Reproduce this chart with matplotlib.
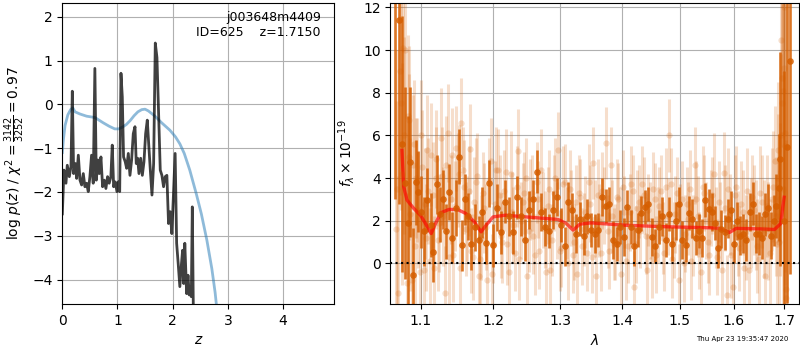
import numpy as np
import matplotlib.pyplot as plt
from matplotlib.ticker import NullLocator, NullFormatter

# left panel: p(z) and prior
pz_z = [0.0, 0.03, 0.066, 0.09, 0.127, 0.157, 0.181, 0.205, 0.236, 0.26,
        0.29, 0.32, 0.35, 0.38, 0.41, 0.44, 0.47, 0.50, 0.53, 0.56,
        0.59, 0.616, 0.646, 0.67, 0.70, 0.73, 0.76, 0.79, 0.82, 0.85,
        0.88, 0.905, 0.93, 0.96, 0.99, 1.015, 1.04, 1.063, 1.087, 1.11,
        1.14, 1.166, 1.196, 1.226, 1.256, 1.286, 1.317, 1.34, 1.365, 1.389,
        1.42, 1.45, 1.48, 1.51, 1.54, 1.565, 1.595, 1.625, 1.655, 1.685,
        1.715, 1.745, 1.775, 1.805, 1.835, 1.865, 1.895, 1.925, 1.955, 1.985,
        2.045, 2.072, 2.10, 2.13, 2.16, 2.18, 2.20, 2.22, 2.253, 2.278,
        2.30, 2.32, 2.338, 2.356, 2.374, 2.40]
pz_logp = [-2.5, -1.5, -1.8, -1.39, -1.65, -1.42, 0.30, -1.58, -1.35, -1.69,
           -1.16, -1.73, -1.84, -1.58, -1.88, -1.8, -1.99, -1.65, -1.16, -1.8,
           0.82, -1.73, -1.27, -1.58, -1.2, -1.88, -1.73, -1.92, -1.65, -1.8,
           -1.65, -0.93, -1.88, -1.77, -1.99, -1.77, -1.99, 0.71, 0.17, -1.2,
           -1.31, -1.46, -1.12, -1.62, -1.27, -0.67, -0.51, -1.35, -1.23, -1.58,
           -1.23, -1.62, -1.31, -0.67, -0.36, -0.89, -1.5, -2.07, -1.35, 1.40,
           1.07, -0.2, -1.5, -1.62, -1.88, -1.65, -1.62, -2.72, -2.45, -2.95,
           -1.12, -3.17, -3.63, -4.16, -3.63, -3.33, -4.09, -3.17, -4.32, -3.9,
           -4.35, -4.16, -4.39, -2.34, -4.62, -6.0]

prior_z = [0.0, 0.02, 0.05, 0.1, 0.15, 0.19, 0.23, 0.32, 0.44, 0.59,
           0.74, 0.85, 0.95, 1.02, 1.09, 1.16, 1.23, 1.30, 1.37, 1.44,
           1.50, 1.56, 1.68, 1.8, 1.95, 2.05, 2.13, 2.21, 2.31, 2.43,
           2.52, 2.62, 2.71, 2.77, 2.82]
prior_logp = [-1.1, -0.8, -0.48, -0.24, -0.12, -0.08, -0.17, -0.22, -0.27, -0.3,
              -0.42, -0.5, -0.56, -0.56, -0.52, -0.46, -0.37, -0.26, -0.17, -0.12,
              -0.11, -0.15, -0.27, -0.42, -0.59, -0.74, -0.9, -1.12, -1.5, -2.05,
              -2.5, -3.1, -3.75, -4.3, -4.9]

# right panel: stacked spectrum (dark points)
lam_d = [1.067, 1.072, 1.076, 1.079, 1.083, 1.086, 1.090, 1.094, 1.097, 1.101, 1.105,
         1.109, 1.113, 1.117, 1.122, 1.126, 1.130, 1.134, 1.138, 1.142, 1.147,
         1.152, 1.156, 1.160, 1.164, 1.169, 1.174, 1.179, 1.184, 1.189, 1.194,
         1.199, 1.205, 1.211, 1.217, 1.223, 1.229, 1.235, 1.241, 1.247, 1.253,
         1.259, 1.265, 1.271, 1.277, 1.283, 1.289, 1.295, 1.301, 1.307, 1.313,
         1.319, 1.325, 1.331, 1.337, 1.343, 1.349, 1.355, 1.361, 1.367, 1.373,
         1.379, 1.385, 1.391, 1.397, 1.403, 1.409, 1.415, 1.421, 1.427, 1.433,
         1.439, 1.445, 1.451, 1.457, 1.463, 1.469, 1.475, 1.481, 1.487, 1.493,
         1.499, 1.505, 1.511, 1.517, 1.523, 1.529, 1.535, 1.541, 1.547, 1.553,
         1.559, 1.565, 1.571, 1.577, 1.583, 1.589, 1.595, 1.601, 1.607, 1.613,
         1.619, 1.625, 1.631, 1.637, 1.643, 1.649, 1.655, 1.661, 1.667, 1.673,
         1.679, 1.684, 1.689, 1.692, 1.699, 1.706, 1.713]
flux_d = [13.0, 11.4, 5.6, 3.75, 1.9, 4.75, -0.55, 3.8, 3.35, 2.4, 1.5,
          2.95, 1.8, 0.55, 3.7, 2.3, 3.0, 1.5, 3.35, 1.2, 2.6,
          5.0, 0.85, 3.0, 2.2, 0.9, 1.7, 1.1, 2.4, 0.95, 3.75,
          0.85, 2.6, 1.45, 2.9, 2.2, 1.45, 3.1, 2.2, 1.1, 2.5,
          3.0, 4.3, 2.4, 1.7, 1.5, 2.5, 3.1, 1.8, 0.8, 2.9,
          2.5, 1.4, 2.1, 1.3, 2.2, 1.56, 1.4, 1.56, 3.1, 2.7,
          2.8, 1.1, 0.9, 1.7, 1.25, 2.65, 1.7, 0.8, 1.56, 2.34,
          2.65, 2.8, 1.25, 0.8, 1.7, 2.2, 1.1, 2.3, 0.9, 2.0,
          2.8, 1.1, 0.85, 2.35, 2.1, 1.2, 1.5, 1.2, 2.97, 2.57,
          2.4, 1.9, 0.7, 1.6, 1.45, 2.1, 2.5, 0.93, 2.0, 1.3,
          1.4, 1.1, 2.4, 2.8, 1.4, 1.4, 1.2, 2.3, 2.6, 1.3,
          2.0, 2.7, 3.55, 4.9, 2.0, 5.45, 9.5]
err_d = [10.0, 8.6, 6.0, 4.5, 5.0, 3.5, 2.2, 2.0, 1.9, 1.7, 1.6,
         1.5, 1.5, 1.4, 1.4, 1.3, 1.4, 1.3, 1.3, 1.2, 1.3,
         1.3, 1.2, 1.2, 1.1, 1.2, 1.1, 1.1, 1.2, 1.0, 1.1,
         1.0, 1.1, 1.0, 1.0, 0.9, 1.0, 1.0, 0.9, 1.0, 0.9,
         0.9, 1.0, 0.9, 0.9, 0.8, 0.9, 0.9, 0.8, 0.9, 0.9,
         0.8, 0.9, 0.8, 0.9, 0.8, 0.8, 0.9, 0.8, 0.9, 0.8,
         0.8, 0.9, 0.8, 0.8, 0.9, 0.8, 0.8, 0.9, 0.8, 0.8,
         0.8, 0.8, 0.9, 0.8, 0.8, 0.9, 0.8, 0.8, 0.8, 0.9,
         0.8, 0.9, 0.8, 0.8, 0.9, 0.8, 0.8, 0.9, 0.8, 0.9,
         0.9, 0.8, 0.9, 0.9, 0.8, 0.9, 0.9, 0.9, 0.9, 0.9,
         0.9, 1.0, 0.9, 1.0, 0.9, 1.0, 1.0, 1.0, 1.1, 1.1,
         1.2, 1.5, 2.5, 5.0, 7.0, 7.3, 10.0]

# individual beams (light points), first beam
lam_l = [1.068, 1.071, 1.074, 1.077, 1.080, 1.083, 1.085, 1.088, 1.091, 1.094,
         1.097, 1.100, 1.104, 1.107, 1.110, 1.114, 1.118, 1.121, 1.125, 1.128,
         1.132, 1.136, 1.140, 1.144, 1.148, 1.151, 1.155, 1.159, 1.163, 1.167,
         1.171, 1.175, 1.179, 1.183, 1.187, 1.191, 1.196, 1.200, 1.204, 1.209,
         1.213, 1.218, 1.222, 1.227, 1.231, 1.236, 1.240, 1.245, 1.250, 1.254,
         1.259, 1.264, 1.268, 1.273, 1.278, 1.283, 1.287, 1.292, 1.297, 1.302,
         1.307, 1.312, 1.317, 1.322, 1.327, 1.332, 1.337, 1.342, 1.347, 1.352,
         1.357, 1.362, 1.367, 1.373, 1.378, 1.383, 1.388, 1.394, 1.399, 1.404,
         1.410, 1.415, 1.420, 1.426, 1.431, 1.437, 1.442, 1.448, 1.453, 1.459,
         1.464, 1.470, 1.476, 1.481, 1.487, 1.492, 1.498, 1.504, 1.510, 1.515,
         1.521, 1.527, 1.533, 1.539, 1.545, 1.551, 1.557, 1.563, 1.569, 1.575,
         1.581, 1.587, 1.593, 1.599, 1.605, 1.611, 1.618, 1.624, 1.630, 1.636,
         1.643, 1.649, 1.655, 1.662, 1.668, 1.675, 1.681, 1.685, 1.688, 1.691,
         1.694, 1.696, 1.698, 1.700, 1.702, 1.704]
flux_l = [1.6, -1.4, 7.5, 10.1, 10.0, 6.9, 6.7, -0.8, 5.6, 4.0,
          2.5, 6.0, -0.3, 1.2, 3.4, 5.1, -0.2, 4.9, 1.9, 4.1,
          -1.4, 6.1, 3.0, 0.4, 5.4, 4.2, 6.6, 3.6, 2.1, 5.35,
          0.3, 3.8, -0.6, 1.2, 2.6, -0.8, 4.8, 0.9, 4.4, 3.2,
          1.0, 4.3, -0.4, 2.4, 0.5, 5.25, 2.0, 3.3, -0.6, 3.0,
          1.3, 3.8, 0.6, 2.5, -0.4, 3.5, 1.1, 4.0, 5.3, 0.7,
          3.8, 0.0, 2.6, 1.0, -0.5, 3.1, 1.6, 0.5, 2.8, 4.7,
          -0.6, 2.0, 3.4, 5.65, 0.6, 2.2, 1.0, 3.0, -0.5, 2.4,
          0.8, 3.7, -1.1, 2.6, 1.5, 3.2, -0.3, 2.0, 3.5, 0.4,
          2.7, 1.2, 3.6, 6.0, 0.2, 2.3, -0.8, 3.0, 1.4, 2.1,
          0.1, 4.6, 2.2, -0.4, 3.3, 1.0, 2.6, 4.2, 0.3, 1.9,
          4.25, -1.5, 2.3, -1.1, 3.6, 0.7, 2.4, 1.2, -0.3, 3.1,
          1.8, 0.2, 2.9, -0.6, 1.5, 3.0, 4.8, 0.9, 5.3, 3.0,
          10.45, 8.7, 8.1, 9.15, 6.1, -1.6]
err_l = [6.0, 5.5, 5.0, 4.5, 4.0, 3.8, 3.5, 3.2, 3.0, 2.8,
         2.7, 2.6, 2.6, 2.5, 2.5, 2.4, 2.4, 2.3, 2.3, 2.3,
         2.2, 2.3, 2.1, 2.2, 2.0, 2.3, 2.1, 2.2, 2.0, 2.1,
         2.0, 2.1, 1.9, 2.0, 2.1, 1.9, 2.0, 1.8, 2.0, 1.9,
         1.9, 2.0, 1.8, 1.9, 1.8, 2.0, 1.8, 1.9, 1.8, 1.9,
         1.8, 1.9, 1.8, 1.8, 1.9, 1.8, 1.7, 1.9, 1.8, 1.8,
         1.8, 1.7, 1.8, 1.8, 1.7, 1.8, 1.7, 1.8, 1.8, 1.7,
         1.8, 1.7, 1.8, 1.7, 1.8, 1.7, 1.8, 1.7, 1.8, 1.7,
         1.7, 1.8, 1.7, 1.8, 1.7, 1.8, 1.7, 1.8, 1.7, 1.8,
         1.8, 1.7, 1.8, 1.7, 1.8, 1.8, 1.7, 1.8, 1.8, 1.7,
         1.8, 1.8, 1.9, 1.8, 1.8, 1.9, 1.8, 1.9, 1.8, 1.9,
         1.9, 1.9, 1.9, 2.0, 1.9, 2.0, 2.0, 2.0, 2.1, 2.0,
         2.1, 2.1, 2.2, 2.2, 2.3, 2.4, 2.6, 2.8, 3.2, 3.6,
         5.0, 5.5, 6.0, 6.0, 6.5, 7.0]

# second beam
lam_l2 = [1.0695, 1.0725, 1.0755, 1.0785, 1.0815, 1.0845, 1.0865, 1.0895, 1.0925, 1.0955,
          1.0985, 1.102, 1.106, 1.109, 1.112, 1.116, 1.120, 1.123, 1.127, 1.130,
          1.134, 1.138, 1.142, 1.146, 1.150, 1.153, 1.157, 1.161, 1.165, 1.169,
          1.173, 1.177, 1.181, 1.185, 1.189, 1.194, 1.198, 1.202, 1.207, 1.211,
          1.216, 1.220, 1.225, 1.229, 1.234, 1.238, 1.243, 1.248, 1.252, 1.257,
          1.262, 1.266, 1.271, 1.276, 1.281, 1.285, 1.290, 1.295, 1.300, 1.305,
          1.310, 1.315, 1.320, 1.325, 1.330, 1.335, 1.340, 1.345, 1.350, 1.355,
          1.360, 1.365, 1.370, 1.376, 1.381, 1.386, 1.391, 1.397, 1.402, 1.407,
          1.413, 1.418, 1.423, 1.429, 1.434, 1.440, 1.445, 1.451, 1.456, 1.462,
          1.467, 1.473, 1.479, 1.484, 1.490, 1.495, 1.501, 1.507, 1.513, 1.518,
          1.524, 1.530, 1.536, 1.542, 1.548, 1.554, 1.560, 1.566, 1.572, 1.578,
          1.584, 1.590, 1.596, 1.602, 1.608, 1.615, 1.621, 1.627, 1.633, 1.640,
          1.646, 1.652, 1.659, 1.665, 1.672, 1.678, 1.683, 1.687, 1.690, 1.693,
          1.695, 1.697, 1.699, 1.701, 1.703]
flux_l2 = [3.5, 9.0, 4.2, 6.0, -0.9, 5.0, 2.3, 4.6, 0.8, 3.9,
           -0.4, 4.5, 2.8, 5.3, 0.1, 3.2, 4.0, 1.1, 5.9, 2.2,
           4.6, 0.3, 5.1, 2.7, 3.9, -0.2, 4.4, 1.6, 3.4, 0.6,
           2.9, 4.1, 0.2, 3.3, 1.7, 3.9, -0.5, 2.8, 4.4, 1.3,
           3.4, 0.9, 4.2, 1.8, 3.6, 0.2, 2.9, 4.0, 1.5, 3.3,
           0.4, 3.0, 4.4, 1.6, 2.7, -0.3, 3.3, 2.0, 0.6, 3.7,
           1.9, 3.5, 0.4, 2.9, 3.3, 0.8, 2.4, 3.8, 0.3, 2.1,
           3.2, 0.5, 2.7, 1.5, 4.6, 0.9, 3.1, 1.8, 3.6, 0.1,
           2.4, 3.4, 0.9, 2.9, 3.7, 1.3, 2.5, 0.2, 3.0, 1.8,
           3.4, 0.5, 2.2, 3.7, 1.1, 3.3, 1.9, 0.0, 2.8, 3.5,
           1.3, 3.0, 0.6, 3.6, 2.0, 0.4, 3.2, 1.7, 2.9, -0.3,
           2.6, 3.5, 0.4, 3.2, 1.4, 2.8, -0.2, 3.4, 1.9, 2.5,
           0.8, 3.3, 1.6, 2.7, 0.5, 3.6, 2.2, 4.0, 1.0, 6.0,
           7.5, 3.5, 12.0, 5.5, -1.2]
err_l2 = [6.5, 5.8, 5.2, 4.6, 4.2, 3.9, 3.6, 3.3, 3.1, 2.9,
          2.8, 2.7, 2.6, 2.6, 2.5, 2.5, 2.4, 2.4, 2.3, 2.3,
          2.3, 2.2, 2.2, 2.1, 2.2, 2.1, 2.0, 2.2, 2.1, 2.0,
          2.1, 2.0, 2.1, 1.9, 2.0, 2.0, 1.9, 2.0, 1.9, 2.0,
          1.9, 1.9, 2.0, 1.8, 1.9, 1.9, 1.8, 1.9, 1.9, 1.8,
          1.9, 1.8, 1.9, 1.8, 1.8, 1.9, 1.8, 1.8, 1.9, 1.8,
          1.7, 1.8, 1.8, 1.7, 1.8, 1.8, 1.7, 1.8, 1.7, 1.8,
          1.7, 1.8, 1.8, 1.7, 1.8, 1.7, 1.8, 1.8, 1.7, 1.8,
          1.8, 1.7, 1.8, 1.7, 1.8, 1.8, 1.7, 1.8, 1.7, 1.8,
          1.7, 1.8, 1.8, 1.7, 1.8, 1.7, 1.8, 1.8, 1.7, 1.8,
          1.9, 1.8, 1.8, 1.9, 1.8, 1.9, 1.8, 1.9, 1.9, 1.9,
          2.0, 1.9, 2.0, 1.9, 2.0, 2.0, 2.1, 2.0, 2.1, 2.1,
          2.2, 2.2, 2.3, 2.4, 2.5, 2.6, 2.8, 3.0, 3.4, 3.8,
          5.0, 5.5, 6.0, 6.5, 7.0]

# best-fit model
lam_m = [1.0756, 1.0778, 1.0821, 1.0908, 1.0997, 1.1063, 1.1139, 1.1198, 1.1266, 1.1379,
         1.1495, 1.161, 1.1729, 1.1825, 1.1897, 1.1996, 1.2171, 1.2478, 1.2968, 1.3097,
         1.3202, 1.331, 1.3495, 1.4044, 1.4733, 1.5547, 1.5723, 1.5923, 1.6051, 1.6506,
         1.6805, 1.6934, 1.6973, 1.700]
flux_m = [5.3, 3.6, 2.97, 2.58, 2.26, 1.87, 1.4, 1.87, 2.37, 2.53,
          2.53, 2.34, 1.95, 1.48, 1.79, 2.18, 2.26, 2.18, 2.06, 1.87,
          1.56, 1.84, 1.9, 1.79, 1.72, 1.67, 1.65, 1.45, 1.64, 1.62,
          1.59, 1.87, 2.65, 3.1]

g141 = '#d55e00'

fig = plt.figure(figsize=(8, 3.5), dpi=100)
ax = fig.add_axes([0.0779, 0.131, 0.340, 0.860])
ax2 = fig.add_axes([0.4879, 0.131, 0.5105, 0.860])

ax.plot(prior_z, prior_logp, color='tab:blue', alpha=0.5, lw=2)
ax.plot(pz_z, pz_logp, color='k', alpha=0.75, lw=2)
ax.set_xlim(0, 4.93)
ax.set_ylim(-4.56, 2.31)
ax.set_xticks([0, 1, 2, 3, 4])
ax.set_yticks([-4, -3, -2, -1, 0, 1, 2])
ax.grid()
ax.set_xlabel('$z$')
ax.set_ylabel(r'log $p(z)$ / $\chi^2=\frac{3142}{3252}=0.97$')
ax.text(0.95, 0.975, 'j003648m4409\nID=625    z=1.7150', transform=ax.transAxes,
        ha='right', va='top', fontsize=9)

for lam, flx, err in [(lam_l, flux_l, err_l), (lam_l2, flux_l2, err_l2)]:
    ax2.errorbar(lam, flx, yerr=err, color=g141, alpha=0.2, marker='o', ms=4.5,
                 linestyle='None', elinewidth=2.2, mew=0)
ax2.errorbar(lam_d, flux_d, yerr=err_d, color=g141, alpha=0.85, marker='o', ms=4.8,
             linestyle='None', elinewidth=1.9, mew=0)
ax2.plot(lam_m, flux_m, color='r', alpha=0.65, lw=2.4)
ax2.axhline(0, color='k', linestyle=':', lw=1.5)

ax2.set_xscale('log')
ax2.set_xlim(1.0607, 1.730)
ax2.set_ylim(-1.91, 12.2)
ax2.set_xticks([1.1, 1.2, 1.3, 1.4, 1.5, 1.6, 1.7])
ax2.set_xticklabels(['1.1', '1.2', '1.3', '1.4', '1.5', '1.6', '1.7'])
ax2.xaxis.set_minor_locator(NullLocator())
ax2.xaxis.set_minor_formatter(NullFormatter())
ax2.set_yticks([0, 2, 4, 6, 8, 10, 12])
ax2.grid()
ax2.set_xlabel(r'$\lambda$')
ax2.set_ylabel(r'$f_\lambda\times10^{-19}$')

fig.text(0.985, 0.022, 'Thu Apr 23 19:35:47 2020', ha='right', va='bottom', fontsize=5)

fig.savefig('out.png', dpi=100)
